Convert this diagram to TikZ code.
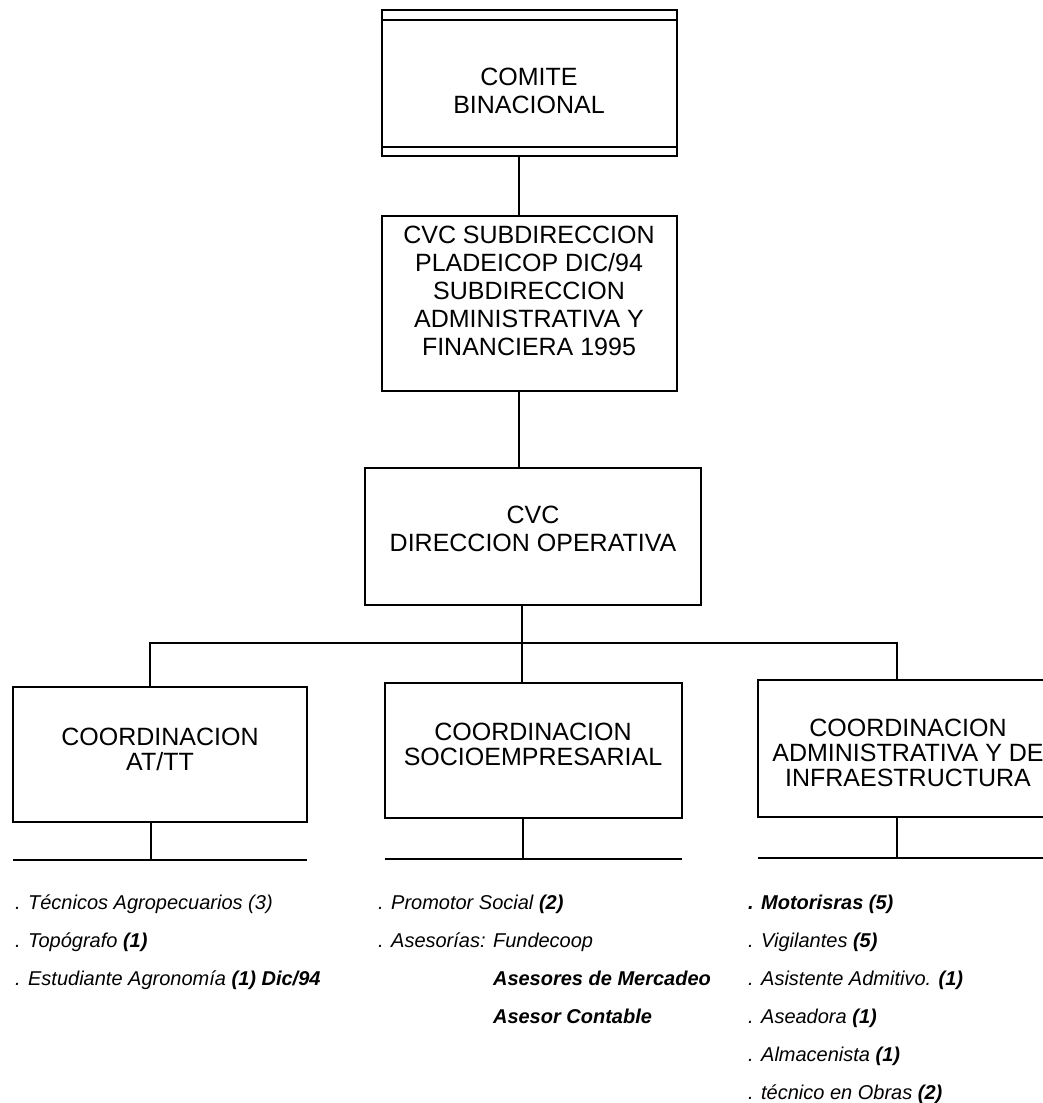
\documentclass[tikz,border=0pt]{standalone}
\usepackage{fontspec}
\setmainfont{Liberation Sans}
\usepackage{tikz}
\usetikzlibrary{positioning,calc}

\newcommand{\boxfont}{\fontsize{25}{28}\selectfont}
\newcommand{\lowfont}{\fontsize{25}{25}\selectfont}
\newcommand{\listfont}{\fontsize{20}{24}\selectfont\itshape}

\begin{document}
\begin{tikzpicture}[x=1pt,y=-1pt]

    \tikzstyle{unit}=[draw,line width=2pt,align=center,inner sep=0pt,outer sep=0pt,font=\boxfont]
    \tikzstyle{coord}=[unit,font=\lowfont]
    \tikzstyle{link}=[line width=2pt]
    \tikzstyle{staff}=[anchor=base west,inner sep=0pt,font=\listfont]

\useasboundingbox (0,0) rectangle (1043,1103);
\clip (0,0) rectangle (1043,1103);

\node (comite) [unit,minimum width=295pt,minimum height=146pt,text height=61pt] at (529,83) {COMITE\\BINACIONAL};
\draw [link] ([yshift=-10pt]comite.north west) -- ([yshift=-10pt]comite.north east);
\draw [link] ([yshift=9pt]comite.south west) -- ([yshift=9pt]comite.south east);

\node (subdir) [unit,minimum width=295pt,minimum height=175pt,text depth=24pt] at (529,303) {CVC SUBDIRECCION\\PLADEICOP DIC/94\\SUBDIRECCION\\ADMINISTRATIVA Y\\FINANCIERA 1995};

\node (dirop) [unit,minimum width=336pt,minimum height=137pt,text depth=14pt] at (533,536) {CVC\\DIRECCION OPERATIVA};

\node (coordat) [coord,minimum width=294pt,minimum height=135pt,text depth=10pt] at (160,754) {COORDINACION\\AT/TT};
\node (coordsoc) [coord,minimum width=297pt,minimum height=135pt,text depth=12pt] at (533,750) {COORDINACION\\SOCIOEMPRESARIAL};
\node (coordadm) [coord,minimum width=300pt,minimum height=137pt,text height=78pt] at (908,748) {COORDINACION\\ADMINISTRATIVA Y DE\\INFRAESTRUCTURA};

% vertical line down the middle
\coordinate (spine) at (519,0);
\draw [link] (comite.south -| spine) -- (subdir.north -| spine);
\draw [link] (subdir.south -| spine) -- (dirop.north -| spine);

\coordinate (bus) at (522,643);
\coordinate (bus-at) at (150,643);
\coordinate (bus-adm) at (897,643);
\draw [link] (dirop.south -| bus) -- (bus) -- (coordsoc.north -| bus);
\draw [link] (coordat.north -| bus-at) -- (bus-at) -- (bus-adm) -- (coordadm.north -| bus-adm);

% lines under the three boxes
\coordinate (base-at) at (151,860);
\coordinate (base-soc) at (523,859);
\coordinate (base-adm) at (897,858);
\draw [link] (coordat.south -| base-at) -- (base-at);
\draw [link] (coordat.west |- base-at) -- (coordat.east |- base-at);
\draw [link] (coordsoc.south -| base-soc) -- (base-soc);
\draw [link] (coordsoc.west |- base-soc) -- (coordsoc.east |- base-soc);
\draw [link] (coordadm.south -| base-adm) -- (base-adm);
\draw [link] (coordadm.west |- base-adm) -- (coordadm.east |- base-adm);

\foreach \entry [count=\k from 0] in {{. Técnicos Agropecuarios (3)},{. Topógrafo \textbf{(1)}},{. Estudiante Agronomía \textbf{(1) Dic/94}}}
    \node (tec\k) [staff] at (15,909+38*\k) {\entry};

\foreach \entry [count=\k from 0] in {{. Promotor Social \textbf{(2)}},{. Asesorías: Fundecoop},{\phantom{. Asesorías: }\textbf{Asesores de Mercadeo}},{\phantom{. Asesorías: }\textbf{Asesor Contable}}}
    \node (soc\k) [staff] at (378,909+38*\k) {\entry};

\foreach \entry [count=\k from 0] in {{\textbf{. Motorisras (5)}},{. Vigilantes \textbf{(5)}},{. Asistente Admitivo. \textbf{(1)}},{. Aseadora \textbf{(1)}},{. Almacenista \textbf{(1)}},{. técnico en Obras \textbf{(2)}}}
    \node (adm\k) [staff] at (748,909+38*\k) {\entry};

\end{tikzpicture}
\end{document}
